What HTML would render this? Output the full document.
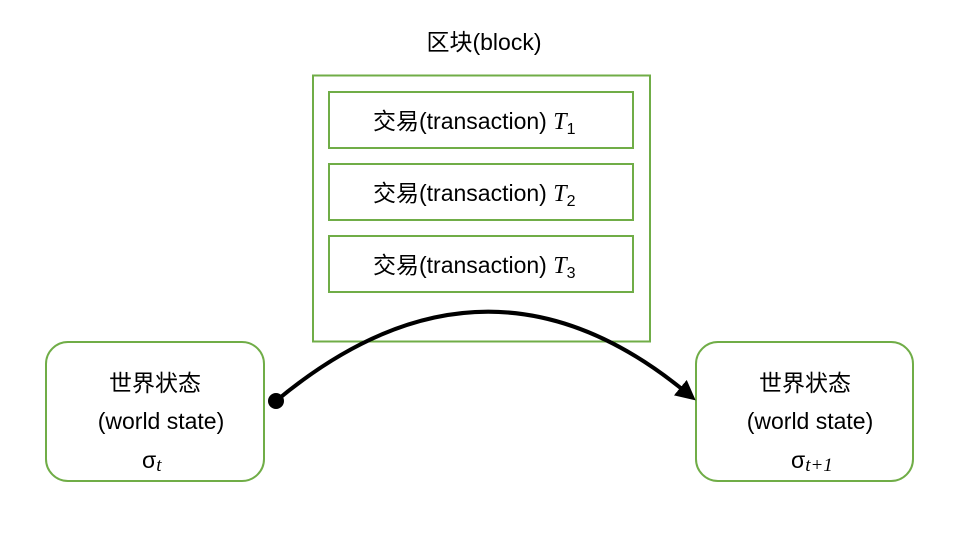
<!DOCTYPE html>
<html><head><meta charset="utf-8"><style>
body{margin:0;background:#fff;}
svg text{font-family:"Liberation Sans","Noto Sans CJK SC",sans-serif;font-size:23px;fill:#000;}
.m{font-family:"Liberation Serif","DejaVu Serif",serif;font-style:italic;}
</style></head><body>
<svg width="974" height="545" viewBox="0 0 974 545" xmlns="http://www.w3.org/2000/svg">
<defs><marker id="a" markerWidth="5" markerHeight="5" refX="2.5" refY="2.5" orient="auto" markerUnits="strokeWidth"><path d="M0,0 L5,2.5 L0,5 z" fill="#000"/></marker></defs>
<text x="484" y="50" text-anchor="middle">区块(block)</text>
<rect x="313" y="75.5" width="337" height="266" fill="none" stroke="#70ad47" stroke-width="2"/>
<rect x="329" y="92" width="304" height="56" fill="none" stroke="#70ad47" stroke-width="2"/>
<rect x="329" y="164" width="304" height="56" fill="none" stroke="#70ad47" stroke-width="2"/>
<rect x="329" y="236" width="304" height="56" fill="none" stroke="#70ad47" stroke-width="2"/>
<text x="373" y="129">交易(transaction) <tspan class="m" font-size="24">T</tspan><tspan font-size="16" dy="5">1</tspan></text>
<text x="373" y="201">交易(transaction) <tspan class="m" font-size="24">T</tspan><tspan font-size="16" dy="5">2</tspan></text>
<text x="373" y="273">交易(transaction) <tspan class="m" font-size="24">T</tspan><tspan font-size="16" dy="5">3</tspan></text>
<rect x="46" y="342" width="218" height="139" rx="22" fill="#fff" stroke="#70ad47" stroke-width="2"/>
<rect x="696" y="342" width="217" height="139" rx="22" fill="#fff" stroke="#70ad47" stroke-width="2"/>
<text x="155" y="391" text-anchor="middle">世界状态</text>
<text x="161" y="429" text-anchor="middle">(world state)</text>
<text x="142" y="468" font-size="26">σ<tspan class="m" font-size="19" dy="3">t</tspan></text>
<text x="805" y="391" text-anchor="middle">世界状态</text>
<text x="810" y="429" text-anchor="middle">(world state)</text>
<text x="791" y="468" font-size="26">σ<tspan class="m" font-size="19" dy="3">t+1</tspan></text>
<path d="M276,401 Q486,226 688,394" fill="none" stroke="#000" stroke-width="4" marker-end="url(#a)"/>
<circle cx="276" cy="401" r="8" fill="#000"/>
</svg>
</body></html>
